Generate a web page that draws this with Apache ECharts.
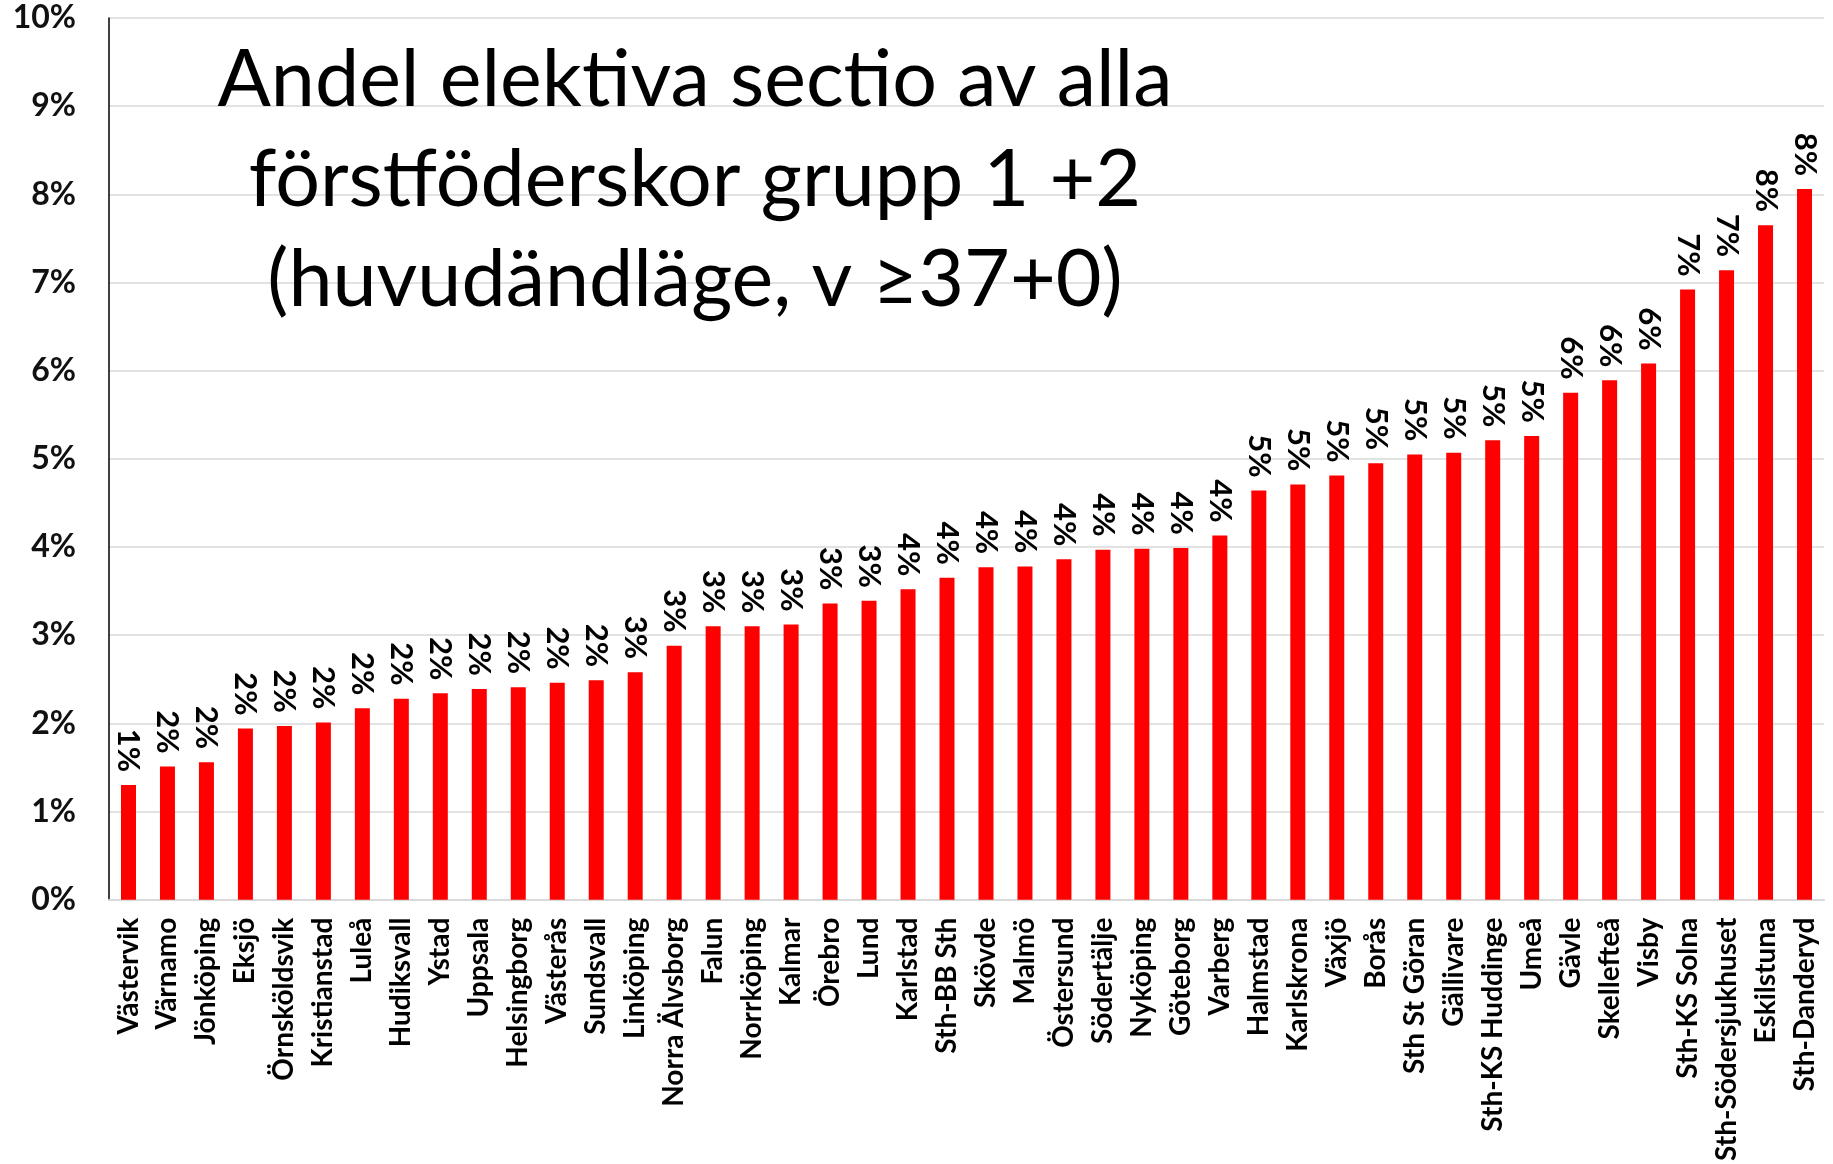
<!DOCTYPE html>
<html>
<head>
    <meta charset="utf-8">
    <title>Andel elektiva sectio</title>
    <script src="https://cdn.jsdelivr.net/npm/echarts@6/dist/echarts.min.js"></script>
    <style>
      html, body { margin: 0; padding: 0; background: #fff; }
    </style>
</head>
<body>
    <div id="main" style="width:1833px;height:1164px;"></div>
    <script type="text/javascript">
      // sjukhus, sorterade efter andel
      var hospitals = ['Västervik', 'Värnamo', 'Jönköping', 'Eksjö', 'Örnsköldsvik', 'Kristianstad',
        'Luleå', 'Hudiksvall', 'Ystad', 'Uppsala', 'Helsingborg', 'Västerås', 'Sundsvall',
        'Linköping', 'Norra Älvsborg', 'Falun', 'Norrköping', 'Kalmar', 'Örebro', 'Lund',
        'Karlstad', 'Sth-BB Sth', 'Skövde', 'Malmö', 'Östersund', 'Södertälje', 'Nyköping',
        'Göteborg', 'Varberg', 'Halmstad', 'Karlskrona', 'Växjö', 'Borås', 'Sth St Göran',
        'Gällivare', 'Sth-KS Huddinge', 'Umeå', 'Gävle', 'Skellefteå', 'Visby', 'Sth-KS Solna',
        'Sth-Södersjukhuset', 'Eskilstuna', 'Sth-Danderyd'];
      // andel i procent (avläst)
      var shares = [1.30, 1.51, 1.56, 1.94, 1.97, 2.01, 2.17, 2.28, 2.34, 2.39, 2.41, 2.46, 2.49,
        2.58, 2.88, 3.10, 3.10, 3.12, 3.36, 3.39, 3.52, 3.65, 3.77, 3.78, 3.86, 3.97, 3.98,
        3.99, 4.13, 4.64, 4.71, 4.81, 4.95, 5.05, 5.07, 5.21, 5.26, 5.75, 5.89, 6.08, 6.92,
        7.14, 7.65, 8.06];
      var yTicks = { min: 0, max: 10, step: 1 };
      var titleLines = ['Andel elektiva sectio av alla', 'förstföderskor grupp 1 +2', '(huvudändläge, v \u226537+0)'];

      var chart = echarts.init(document.getElementById('main'));
      var option = {
        backgroundColor: '#fff',
        animation: false,
        title: {
          text: titleLines.join('\n'),
          left: 690,
          top: 26,
          textAlign: 'center',
          textStyle: { fontFamily: 'Lato', fontWeight: 'normal', fontSize: 79, lineHeight: 100, color: '#000' }
        },
        grid: { left: 109, right: 9, top: 18, bottom: 262 },
        xAxis: {
          type: 'category',
          data: hospitals,
          axisLine: { lineStyle: { color: '#d9d9d9', width: 2 } },
          axisTick: { show: false },
          axisLabel: {
            rotate: 90, interval: 0, margin: 18,
            fontFamily: 'Lato', fontWeight: 'bold', fontSize: 28, color: '#000'
          }
        },
        yAxis: {
          type: 'value',
          min: yTicks.min, max: yTicks.max, interval: yTicks.step,
          axisLine: { show: true, lineStyle: { color: '#000', width: 1.5 } },
          axisTick: { show: false },
          splitLine: { lineStyle: { color: '#d9d9d9', width: 1.5 } },
          axisLabel: {
            margin: 33, formatter: '{value}%',
            fontFamily: 'Lato', fontWeight: 'bold', fontSize: 32, color: '#111'
          }
        },
        series: [{
          type: 'bar',
          data: shares,
          barWidth: 15,
          itemStyle: { color: '#ff0000' },
          label: {
            show: true, position: 'top', rotate: -90, distance: 13,
            align: 'right', verticalAlign: 'middle',
            formatter: function (p) { return Math.round(p.value) + '%'; },
            fontFamily: 'Lato', fontWeight: 'bold', fontSize: 31, color: '#000'
          }
        }]
      };
      chart.setOption(option);
    </script>
</body>
</html>
